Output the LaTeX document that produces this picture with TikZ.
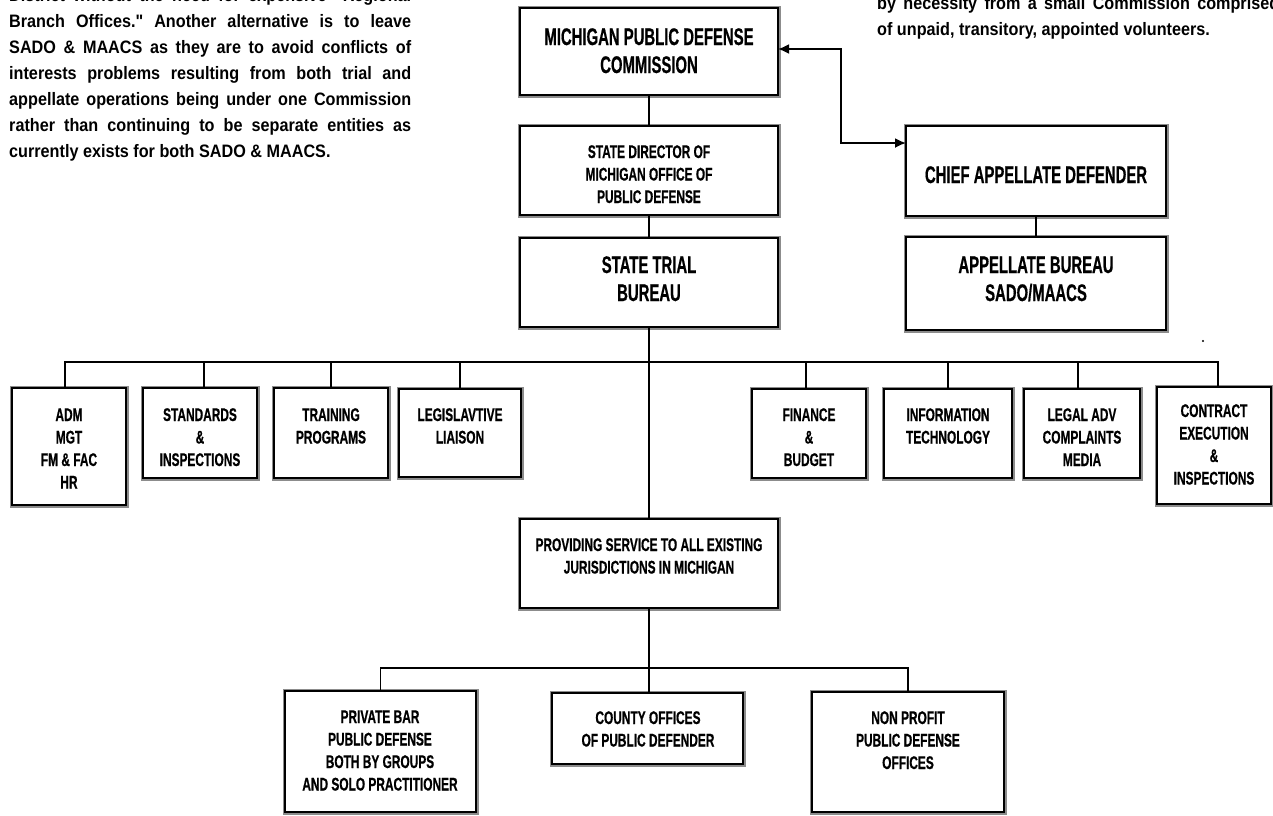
\documentclass[tikz,border=0pt]{standalone}
\usepackage{fontspec}
\usetikzlibrary{arrows.meta}
\newfontfamily\bxf[FakeStretch=0.62,FakeBold=0.6]{Liberation Sans}
\newfontfamily\bxs[FakeStretch=0.65,FakeBold=0.6]{Liberation Sans}
\newfontfamily\pfont[FakeStretch=0.9]{Liberation Sans}
\newcommand\mlines[1]{\begin{tabular}[t]{@{}c@{}}#1\end{tabular}}
\begin{document}
\begin{tikzpicture}[x=1pt,y=-1pt,
  orgbox/.style={draw=black, line width=2.2pt, fill=white,
    preaction={draw=black!45, line width=5pt},
    inner sep=0pt, outer sep=0pt, anchor=north west},
  big/.style={anchor=base, inner sep=0pt, font=\bxf\bfseries\fontsize{24}{28}\selectfont},
  small/.style={anchor=base, inner sep=0pt, font=\bxs\bfseries\fontsize{18.3}{22.5}\selectfont},
  para/.style={anchor=base west, inner sep=0pt, font=\pfont\bfseries\fontsize{18}{26}\selectfont},
  link/.style={draw=black, line width=1.3pt},
  dbl/.style={draw=black, line width=1.8pt, {Latex[length=11pt,width=10pt]}-{Latex[length=11pt,width=10pt]}}
]
\useasboundingbox (0,0) rectangle (1273,815);
\clip (0,0) rectangle (1273,815);

% paragraphs
\node[para] (p1) at (9,1.5) {\makebox[402pt][s]{District without the need for expensive "Regional}};
\node[para] (p2) at (9,27) {\makebox[402pt][s]{Branch Offices." Another alternative is to leave}};
\node[para] (p3) at (9,53) {\makebox[402pt][s]{SADO \& MAACS as they are to avoid conflicts of}};
\node[para] (p4) at (9,79) {\makebox[402pt][s]{interests problems resulting from both trial and}};
\node[para] (p5) at (9,105) {\makebox[402pt][s]{appellate operations being under one Commission}};
\node[para] (p6) at (9,131) {\makebox[402pt][s]{rather than continuing to be separate entities as}};
\node[para] (p7) at (9,157) {currently exists for both SADO \& MAACS.};
\node[para] (q1) at (877,9) {\makebox[402pt][s]{by necessity from a small Commission comprised}};
\node[para] (q2) at (877,35) {of unpaid, transitory, appointed volunteers.};

% boxes
\node[orgbox, minimum width=258pt, minimum height=87pt] (comm) at (520,8) {};
\node[orgbox, minimum width=258pt, minimum height=89pt] (dir) at (520,126) {};
\node[orgbox, minimum width=258pt, minimum height=89pt] (trial) at (520,238) {};
\node[orgbox, minimum width=260pt, minimum height=90pt] (chief) at (906,126) {};
\node[orgbox, minimum width=260pt, minimum height=93pt] (appb) at (906,237) {};
\node[orgbox, minimum width=114pt, minimum height=117pt] (adm) at (12,388) {};
\node[orgbox, minimum width=114pt, minimum height=90pt] (std) at (143,388) {};
\node[orgbox, minimum width=114pt, minimum height=90pt] (trn) at (274,388) {};
\node[orgbox, minimum width=122pt, minimum height=88pt] (leg) at (399,389) {};
\node[orgbox, minimum width=114pt, minimum height=89pt] (fin) at (752,389) {};
\node[orgbox, minimum width=128pt, minimum height=89pt] (inf) at (884,389) {};
\node[orgbox, minimum width=116pt, minimum height=89pt] (lgl) at (1024,389) {};
\node[orgbox, minimum width=114pt, minimum height=117pt] (con) at (1157,387) {};
\node[orgbox, minimum width=258pt, minimum height=89pt] (prov) at (520,519) {};
\node[orgbox, minimum width=191pt, minimum height=121pt] (priv) at (285,691) {};
\node[orgbox, minimum width=191pt, minimum height=71pt] (cnty) at (552,693) {};
\node[orgbox, minimum width=192pt, minimum height=120pt] (nonp) at (812,692) {};

% texts
\node[big] (comm-t) at (649,45) {\mlines{MICHIGAN PUBLIC DEFENSE\\COMMISSION}};
\node[small] (dir-t) at (649,158) {\mlines{STATE DIRECTOR OF\\MICHIGAN OFFICE OF\\PUBLIC DEFENSE}};
\node[big] (trial-t) at (649,273) {\mlines{STATE TRIAL\\BUREAU}};
\node[big] (chief-t) at (1036,183) {CHIEF APPELLATE DEFENDER};
\node[big] (appb-t) at (1036,273) {\mlines{APPELLATE BUREAU\\SADO/MAACS}};
\node[small] (adm-t) at (69,421) {\mlines{ADM\\MGT\\FM \& FAC\\HR}};
\node[small] (std-t) at (200,421) {\mlines{STANDARDS\\\&\\INSPECTIONS}};
\node[small] (trn-t) at (331,421) {\mlines{TRAINING\\PROGRAMS}};
\node[small] (leg-t) at (460,421) {\mlines{LEGISLAVTIVE\\LIAISON}};
\node[small] (fin-t) at (809,421) {\mlines{FINANCE\\\&\\BUDGET}};
\node[small] (inf-t) at (948,421) {\mlines{INFORMATION\\TECHNOLOGY}};
\node[small] (lgl-t) at (1082,421) {\mlines{LEGAL ADV\\COMPLAINTS\\MEDIA}};
\node[small] (con-t) at (1214,417) {\mlines{CONTRACT\\EXECUTION\\\&\\INSPECTIONS}};
\node[small] (prov-t) at (649,551) {\mlines{PROVIDING SERVICE TO ALL EXISTING\\JURISDICTIONS IN MICHIGAN}};
\node[small] (priv-t) at (380,723) {\mlines{PRIVATE BAR\\PUBLIC DEFENSE\\BOTH BY GROUPS\\AND SOLO PRACTITIONER}};
\node[small] (cnty-t) at (648,724) {\mlines{COUNTY OFFICES\\OF PUBLIC DEFENDER}};
\node[small] (nonp-t) at (908,724) {\mlines{NON PROFIT\\PUBLIC DEFENSE\\OFFICES}};

% connectors
\coordinate (bus) at (649,362);
\coordinate (bus2) at (649,668);
\draw[link] (comm.south) -- (dir.north);
\draw[link] (dir.south) -- (trial.north);
\draw[link] (chief.south) -- (appb.north);
\draw[link] (trial.south) -- (prov.north);
\draw[link] ([xshift=-4pt]adm.north) -- ([xshift=-4pt]adm.north |- bus) -- ([xshift=4pt]con.north |- bus) -- ([xshift=4pt]con.north);
\draw[link] ([xshift=4pt]std.north) -- ([xshift=4pt]std.north |- bus);
\foreach \n in {trn,leg,inf} \draw[link] (\n.north) -- (\n.north |- bus);
\draw[link] ([xshift=-3pt]fin.north) -- ([xshift=-3pt]fin.north |- bus);
\draw[link] ([xshift=-4pt]lgl.north) -- ([xshift=-4pt]lgl.north |- bus);
\draw[link] (prov.south) -- (prov.south |- cnty.north);
\draw[link] (priv.north) -- (priv.north |- bus2) -- (nonp.north |- bus2) -- (nonp.north);
\draw[dbl] ([yshift=2.5pt]comm.east) -- ++(63,0) |- ([yshift=28pt]chief.west);

\fill (1203,341) circle (1.2pt);
\end{tikzpicture}
\end{document}
